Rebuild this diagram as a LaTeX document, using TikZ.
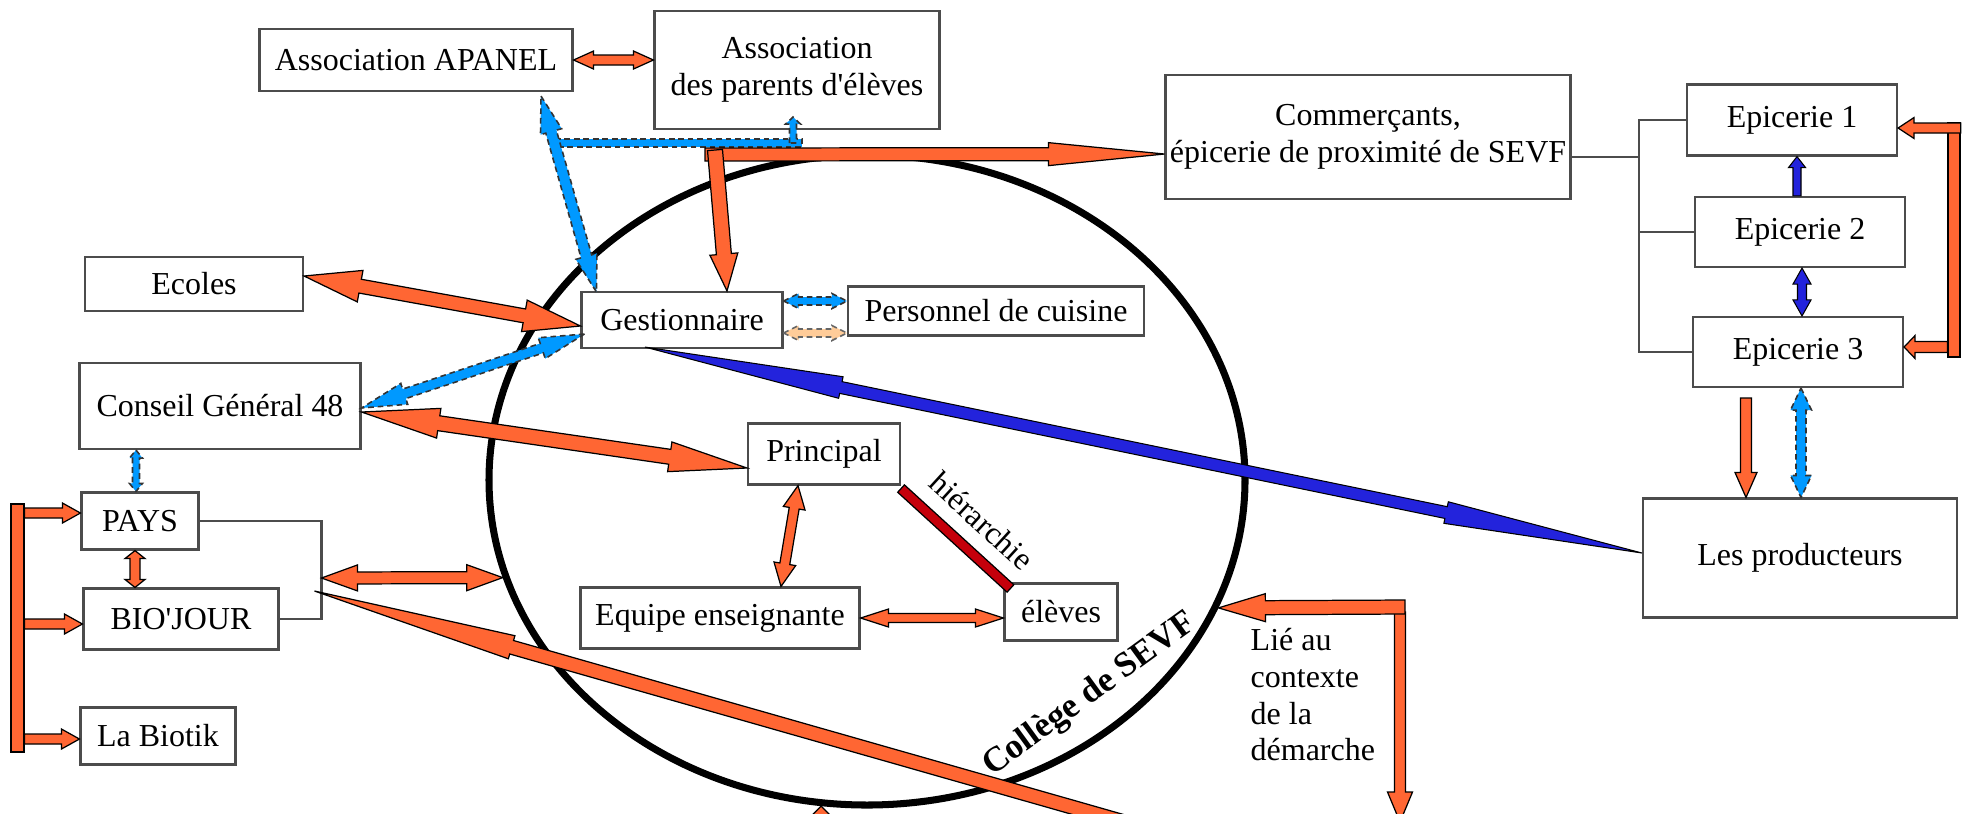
\documentclass[tikz,border=0pt]{standalone}
\usepackage{tikz,xparse}
\usepackage{fontspec}
\setmainfont{Liberation Serif}
\usetikzlibrary{calc,shapes.geometric}

\definecolor{arrorange}{HTML}{FF6633}
\definecolor{arrlblue}{HTML}{0099FF}
\definecolor{arrdblue}{HTML}{2323DC}
\definecolor{arrpeach}{HTML}{FFCC99}
\definecolor{arrred}{HTML}{C5000B}

\tikzset{
	box/.style={draw=black!70,line width=0.6pt,fill=white,inner sep=0pt,align=center},
	orarr/.style={fill=arrorange,draw=black,line width=0.35pt},
	lbarr/.style={fill=arrlblue,draw=black!80,line width=0.45pt,dash pattern=on 1.6pt off 1.1pt},
	dbarr/.style={fill=arrdblue,draw=black,line width=0.3pt},
	pcarr/.style={fill=arrpeach,draw=black!60,line width=0.45pt,dash pattern=on 1.6pt off 1.1pt},
	rdarr/.style={fill=arrred,draw=black,line width=0.35pt},
	orbar/.style={fill=arrorange,draw=black,line width=0.35pt,inner sep=0pt},
	link/.style={draw=black!70,line width=0.6pt}
}

% #2 tail, #3 tip, #4 half shaft, #5 half head, #6 head length
\NewDocumentCommand{\onearrow}{O{orarr} m m m m m}{%
	\coordinate (hb) at ($(#3)!#6!(#2)$);
	\filldraw[#1] ($(#2)!#4!90:(#3)$) -- ($(hb)!#4!90:(#3)$) -- ($(hb)!#5!90:(#3)$) -- (#3)
	-- ($(hb)!#5!-90:(#3)$) -- ($(hb)!#4!-90:(#3)$) -- ($(#2)!#4!-90:(#3)$) -- cycle;
}
\NewDocumentCommand{\twoarrow}{O{orarr} m m m m m}{%
	\coordinate (ha) at ($(#2)!#6!(#3)$);
	\coordinate (hb) at ($(#3)!#6!(#2)$);
	\filldraw[#1] (#2) -- ($(ha)!#5!90:(#3)$) -- ($(ha)!#4!90:(#3)$) -- ($(hb)!#4!90:(#3)$)
	-- ($(hb)!#5!90:(#3)$) -- (#3) -- ($(hb)!#5!-90:(#3)$) -- ($(hb)!#4!-90:(#3)$)
	-- ($(ha)!#4!-90:(#3)$) -- ($(ha)!#5!-90:(#3)$) -- cycle;
}
\NewDocumentCommand{\fatbar}{O{orarr} m m m}{%
	\filldraw[#1] ($(#2)!#4!90:(#3)$) -- ($(#3)!#4!-90:(#2)$) -- ($(#3)!#4!90:(#2)$) -- ($(#2)!#4!-90:(#3)$) -- cycle;
}

\begin{document}
\begin{tikzpicture}[font=\fontsize{9.1pt}{10.4pt}\selectfont]
	\useasboundingbox (0,0) rectangle (19.63,-8.13);
	\clip (0,0) rectangle (19.63,-8.13);

	\node[draw,ellipse,line width=2pt,inner sep=0pt,minimum width=7.56cm,minimum height=6.5cm] (college) at (8.67,-4.80) {};

	\node[box,minimum width=3.13cm,minimum height=0.62cm] (apanel) at (4.16,-0.60) {Association APANEL};
	\node[box,minimum width=2.85cm,minimum height=1.18cm] (parents) at (7.97,-0.70) {Association\\des parents d\textquotesingle élèves};
	\node[box,minimum width=4.05cm,minimum height=1.24cm] (commerc) at (13.68,-1.37) {Commerçants,\\épicerie de proximité de SEVF};
	\node[box,minimum width=2.10cm,minimum height=0.71cm] (epi1) at (17.92,-1.20) {Epicerie 1};
	\node[box,minimum width=2.10cm,minimum height=0.70cm] (epi2) at (18.00,-2.32) {Epicerie 2};
	\node[box,minimum width=2.10cm,minimum height=0.70cm] (epi3) at (17.98,-3.52) {Epicerie 3};
	\node[box,minimum width=3.14cm,minimum height=1.19cm] (prod) at (18.00,-5.58) {Les producteurs};
	\node[box,minimum width=2.18cm,minimum height=0.54cm] (ecoles) at (1.94,-2.84) {Ecoles};
	\node[box,minimum width=2.01cm,minimum height=0.56cm] (gest) at (6.82,-3.20) {Gestionnaire};
	\node[box,minimum width=2.96cm,minimum height=0.49cm] (cuisine) at (9.96,-3.11) {Personnel de cuisine};
	\node[box,minimum width=2.81cm,minimum height=0.86cm] (conseil) at (2.20,-4.06) {Conseil Général 48};
	\node[box,minimum width=1.52cm,minimum height=0.61cm] (principal) at (8.24,-4.54) {Principal};
	\node[box,minimum width=1.17cm,minimum height=0.57cm] (pays) at (1.40,-5.21) {PAYS};
	\node[box,minimum width=1.95cm,minimum height=0.61cm] (biojour) at (1.81,-6.19) {BIO\textquotesingle JOUR};
	\node[box,minimum width=1.55cm,minimum height=0.57cm] (biotik) at (1.58,-7.36) {La Biotik};
	\node[box,minimum width=2.79cm,minimum height=0.61cm] (equipe) at (7.20,-6.18) {Equipe enseignante};
	\node[box,minimum width=1.13cm,minimum height=0.57cm] (eleves) at (10.61,-6.12) {élèves};

	\coordinate (brk) at (3.215,-5.78);
	\coordinate (tkB) at (16.39,-3.52);
	\coordinate (cmR) at ([yshift=-0.20cm]commerc.east);
	\draw[link] (pays.east) -| (brk) |- (biojour.east);
	\draw[link] (epi1.west) -| (tkB) -- (epi3.west);
	\draw[link] (cmR) -- (cmR -| tkB);
	\draw[link] (epi2.west) -- (epi2.west -| tkB);

	\coordinate (apS) at ([xshift=1.25cm,yshift=-0.04cm]apanel.south);
	\coordinate (gsNW) at ([xshift=0.16cm,yshift=-0.01cm]gest.north west);
	\coordinate (brL) at (5.55,-1.43);
	\coordinate (brR) at (8.02,-1.43);
	\coordinate (brU) at (7.93,-1.43);
	\coordinate (paS) at ([xshift=-0.04cm,yshift=0.13cm]parents.south);
	\coordinate (orC) at (7.05,-1.545);
	\coordinate (orV) at (7.15,-1.50);
	\coordinate (cmL) at ([yshift=-0.17cm]commerc.west);
	\coordinate (gsN) at ([xshift=0.45cm]gest.north);
	\coordinate (ecR) at ([yshift=0.08cm]ecoles.east);
	\coordinate (gsL1) at ([yshift=-0.06cm]gest.west);
	\coordinate (gsL2) at ([xshift=0.04cm,yshift=-0.14cm]gest.west);
	\coordinate (cnR1) at ([yshift=-0.02cm]conseil.east);
	\coordinate (cnR2) at ([yshift=-0.06cm]conseil.east);
	\coordinate (prL) at ([yshift=-0.14cm]principal.west);
	\coordinate (prS) at ([xshift=-0.26cm]principal.south);
	\coordinate (eqN) at ([xshift=0.61cm]equipe.north);
	\coordinate (elL) at (equipe.east -| eleves.west);
	\coordinate (hiA) at ([yshift=-0.03cm]principal.south east);
	\coordinate (hiB) at ([xshift=0.07cm,yshift=-0.06cm]eleves.north west);
	\coordinate (gsR1) at ([yshift=0.19cm]gest.east);
	\coordinate (cuL1) at (gsR1 -| cuisine.west);
	\coordinate (gsR2) at ([yshift=-0.13cm]gest.east);
	\coordinate (cuL2) at (gsR2 -| cuisine.west);
	\coordinate (gsS) at ([xshift=-0.37cm,yshift=0.02cm]gest.south);
	\coordinate (prodL) at ([yshift=0.05cm]prod.west);
	\coordinate (cnS) at ([xshift=-0.84cm]conseil.south);
	\coordinate (pyN) at (cnS |- pays.north);
	\coordinate (pyS) at ([xshift=-0.05cm]pays.south);
	\coordinate (bjN) at (pyS |- biojour.north);
	\coordinate (elW) at (college.195);
	\coordinate (ndl) at ([xshift=-0.07cm,yshift=-0.13cm]brk);
	\coordinate (ndT) at (12.40,-8.55);
	\coordinate (e2N) at ([xshift=-0.03cm]epi2.north);
	\coordinate (e1S) at (e2N |- epi1.south);
	\coordinate (e2S) at ([xshift=0.02cm]epi2.south);
	\coordinate (e3N) at (e2S |- epi3.north);
	\coordinate (e3Sa) at ([xshift=-0.52cm,yshift=-0.10cm]epi3.south);
	\coordinate (pNa) at (e3Sa |- prod.north);
	\coordinate (e3Sb) at ([xshift=0.03cm]epi3.south);
	\coordinate (pNb) at (e3Sb |- prod.north);
	\coordinate (lieC) at (14.05,-6.07);
	\coordinate (elE) at (college.-20);
	\coordinate (lieV) at (14.00,-6.12);
	\coordinate (lieD) at (14.00,-8.22);
	\coordinate (botA) at (8.21,-8.70);
	\coordinate (botB) at (college.262);

	\twoarrow{apanel.east}{apanel.east -| parents.west}{0.5mm}{0.9mm}{2mm}
	\fatbar[lbarr]{brL}{brR}{0.4mm}
	\onearrow[lbarr]{brU}{paS}{0.35mm}{0.75mm}{0.7mm}
	\twoarrow[lbarr]{apS}{gsNW}{0.55mm}{1.1mm}{3.7mm}
	\onearrow{orC}{cmL}{0.65mm}{1.15mm}{11.6mm}
	\onearrow{orV}{gsN}{0.75mm}{1.4mm}{3.7mm}
	\twoarrow{ecR}{gsL1}{0.7mm}{1.6mm}{5.7mm}
	\twoarrow[lbarr]{gsL2}{cnR1}{0.5mm}{1.1mm}{4.5mm}
	\twoarrow{cnR2}{prL}{0.75mm}{1.5mm}{7.8mm}
	\twoarrow{prS}{eqN}{0.5mm}{1.1mm}{2.3mm}
	\twoarrow{equipe.east}{elL}{0.45mm}{0.9mm}{2.8mm}
	\fatbar[rdarr]{hiA}{hiB}{0.5mm}
	\twoarrow[lbarr]{gsR1}{cuL1}{0.4mm}{0.75mm}{1.5mm}
	\twoarrow[pcarr]{gsR2}{cuL2}{0.4mm}{0.75mm}{1.5mm}
	\twoarrow[dbarr]{gsS}{prodL}{0.6mm}{1.1mm}{20mm}
	\twoarrow[lbarr]{cnS}{pyN}{0.35mm}{0.65mm}{0.8mm}
	\twoarrow{pyS}{bjN}{0.5mm}{1mm}{0.8mm}
	\twoarrow{brk}{elW}{0.6mm}{1.3mm}{3.6mm}
	\onearrow{ndT}{ndl}{0.7mm}{1.2mm}{20.5mm}
	\onearrow[dbarr]{e2N}{e1S}{0.4mm}{0.85mm}{1.1mm}
	\twoarrow[dbarr]{e2S}{e3N}{0.45mm}{0.9mm}{1.6mm}
	\onearrow{e3Sa}{pNa}{0.55mm}{1.1mm}{2.5mm}
	\twoarrow[lbarr]{e3Sb}{pNb}{0.5mm}{1.05mm}{2.2mm}
	\onearrow{lieV}{lieD}{0.55mm}{1.25mm}{3mm}
	\onearrow{lieC}{elE}{0.7mm}{1.4mm}{4.7mm}
	\onearrow{botA}{botB}{0.6mm}{1.4mm}{1.4mm}

	\node[orbar,minimum width=0.13cm,minimum height=2.48cm] (lbar) at (0.175,-6.28) {};
	\coordinate (pyW) at ([yshift=0.08cm]pays.west);
	\coordinate (bjW) at ([yshift=-0.05cm]biojour.west);
	\coordinate (btW) at ([yshift=-0.03cm]biotik.west);
	\coordinate (lb1) at (lbar.east |- pyW);
	\coordinate (lb2) at (lbar.east |- bjW);
	\coordinate (lb3) at (lbar.east |- btW);
	\onearrow{lb1}{pyW}{0.5mm}{1mm}{1.8mm}
	\onearrow{lb2}{bjW}{0.5mm}{1mm}{1.8mm}
	\onearrow{lb3}{btW}{0.5mm}{1mm}{1.8mm}

	\node[orbar,minimum width=0.12cm,minimum height=2.34cm] (rbar) at (19.54,-2.40) {};
	\coordinate (e1R) at ([yshift=-0.08cm]epi1.east);
	\coordinate (e3R) at ([yshift=0.05cm]epi3.east);
	\coordinate (rb1) at (rbar.east |- e1R);
	\coordinate (rb2) at (rbar.west |- e3R);
	\onearrow{rb1}{e1R}{0.5mm}{1.05mm}{1.6mm}
	\onearrow{rb2}{e3R}{0.55mm}{1.15mm}{1.1mm}

	\path (hiA) -- (hiB) node[pos=0.55,sloped,above=0.15cm,inner sep=1pt] (hier) {hiérarchie};
	\node[font=\bfseries,rotate=36] (sevf) at (10.90,-6.95) {Collège de SEVF};
	\node[anchor=north west,align=left,inner sep=0pt] (lie) at (12.50,-6.28) {Lié au\\contexte\\de la\\démarche};
\end{tikzpicture}
\end{document}
